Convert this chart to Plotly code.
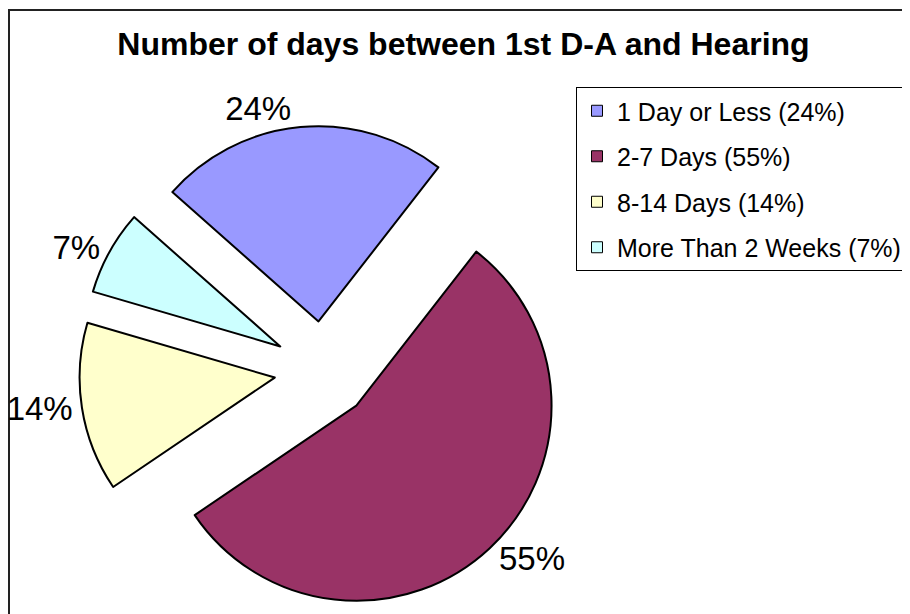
import plotly.graph_objects as go

# ---- data ----
categories = ["1 Day or Less", "2-7 Days", "8-14 Days", "More Than 2 Weeks"]
percents = [24, 55, 14, 7]
colors = ["#9999FF", "#993366", "#FFFFCC", "#CCFFFF"]
title_text = "Number of days between 1st D-A and Hearing"

legend_labels = [f"{c} ({p}%)" for c, p in zip(categories, percents)]
slice_text = [f"{p}%" for p in percents]

# page body adds an 8px margin, so the figure is sized to fit the window
W, H = 902, 606
FONT = "Liberation Sans, Arial, sans-serif"

fig = go.Figure()

fig.add_trace(go.Pie(
    labels=categories,
    values=percents,
    text=slice_text,
    textinfo="text",
    textposition="outside",
    textfont=dict(family=FONT, size=33, color="black"),
    marker=dict(colors=colors, line=dict(color="black", width=2)),
    sort=False,
    direction="clockwise",
    rotation=-48.5,
    pull=[0.25, 0.25, 0.25, 0.25],
    domain=dict(x=[55 / W, 575 / W], y=[0, (H - 118) / H]),
    showlegend=False,
    hoverinfo="label+percent",
))

# legend entries (one group per category so spacing can match)
for i, (lab, col) in enumerate(zip(legend_labels, colors)):
    fig.add_trace(go.Scatter(
        x=[None], y=[None], mode="markers", name=lab,
        legendgroup=f"g{i}",
        marker=dict(symbol="square", size=11, color=col,
                    line=dict(color="black", width=1)),
        hoverinfo="skip",
    ))

fig.update_layout(
    width=W, height=H,
    margin=dict(l=0, r=0, t=0, b=0, autoexpand=False),
    paper_bgcolor="white",
    plot_bgcolor="rgba(0,0,0,0)",
    xaxis=dict(visible=False),
    yaxis=dict(visible=False),
    font=dict(family=FONT, color="black"),
    title=dict(text=title_text, x=455.5 / W, xanchor="center",
               y=1 - 36 / H, yanchor="middle", xref="paper", yref="paper",
               font=dict(family=FONT, size=32, color="black", weight="bold")),
    legend=dict(
        x=568 / W, y=1 - 79 / H, xanchor="left", yanchor="top",
        bordercolor="black", borderwidth=1, bgcolor="white",
        font=dict(family=FONT, size=25, color="black"),
        traceorder="grouped", tracegroupgap=10,
    ),
    shapes=[dict(type="rect", xref="paper", yref="paper",
                 x0=1 / W, x1=1.05, y0=-0.05, y1=1 - 2 / H,
                 line=dict(color="#222222", width=2), fillcolor="rgba(0,0,0,0)",
                 layer="below")],
)

fig.write_html("out.html")
